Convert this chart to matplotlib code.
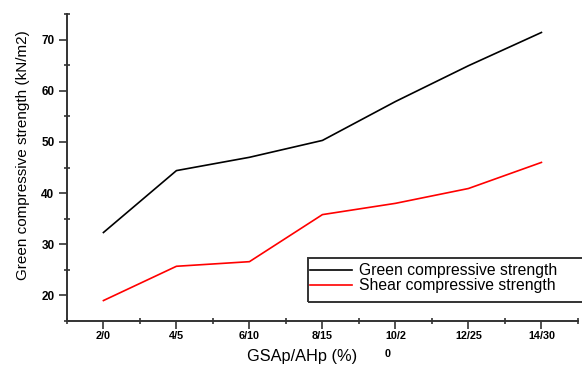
import numpy as np
import matplotlib.pyplot as plt
from matplotlib.patches import Rectangle
from matplotlib.ticker import MultipleLocator

plt.rcParams['font.family'] = ['Liberation Sans', 'DejaVu Sans']

# data
ratios = ["2/0", "4/5", "6/10", "8/15", "10/2\n0", "12/25", "14/30"]
green = [32.3, 44.4, 47.0, 50.3, 57.9, 64.9, 71.4]
shear = [19.0, 25.7, 26.6, 35.8, 38.0, 40.9, 46.0]

fig = plt.figure(figsize=(5.82, 3.65), dpi=100)
ax = fig.add_axes([0.115, 0.1205, 0.878, 0.841])

x = np.arange(len(ratios))
ax.plot(x, green, color="black", lw=1.2, label="Green compressive strength")
ax.plot(x, shear, color="#ff0000", lw=1.2, label="Shear compressive strength")

ax.set_xlim(-0.5, 6.5)
ax.set_ylim(15, 75)
ax.set_xticks(x)
ax.set_xticklabels(ratios, fontsize=7.8, fontweight="bold")
ax.xaxis.set_minor_locator(MultipleLocator(0.5))
ax.yaxis.set_major_locator(MultipleLocator(10))
ax.yaxis.set_minor_locator(MultipleLocator(5))
for lab in ax.get_xticklabels():
    lab.set_verticalalignment("top")
    lab.set_linespacing(1.9)
    lab.set_multialignment("left")
for lab in ax.get_yticklabels():
    lab.set_fontsize(8.5)
    lab.set_fontweight("bold")

for s in ["top", "right"]:
    ax.spines[s].set_visible(False)
for s in ["left", "bottom"]:
    ax.spines[s].set_color("#333333")
    ax.spines[s].set_linewidth(1.4)
ax.tick_params(which="major", direction="out", length=6, width=1.2, color="#333333")
ax.tick_params(axis="x", which="major", pad=1.5)
ax.tick_params(axis="y", which="major", pad=3)
ax.tick_params(which="minor", direction="inout", length=5, width=1.2, color="#333333")

ax.set_ylabel("Green compressive strength (kN/m2)", fontsize=11)
ax.yaxis.set_label_coords(-0.072, 0.54)
ax.set_xlabel("GSAp/AHp (%)", fontsize=11.8)
ax.xaxis.set_label_coords(0.46, -0.09)

# legend box, runs off the right edge like the original
fig.patches.append(Rectangle((0.529, 0.173), 0.5, 0.12, transform=fig.transFigure,
                             fill=False, edgecolor="#333333", lw=1.4))
ax.legend(loc="upper left", bbox_to_anchor=(0.527, 0.288), bbox_transform=fig.transFigure,
          frameon=False, fontsize=11.3, handlelength=2.7, handletextpad=0.4,
          borderpad=0.2, labelspacing=0.0, borderaxespad=0)

fig.savefig("out.png", dpi=100)
